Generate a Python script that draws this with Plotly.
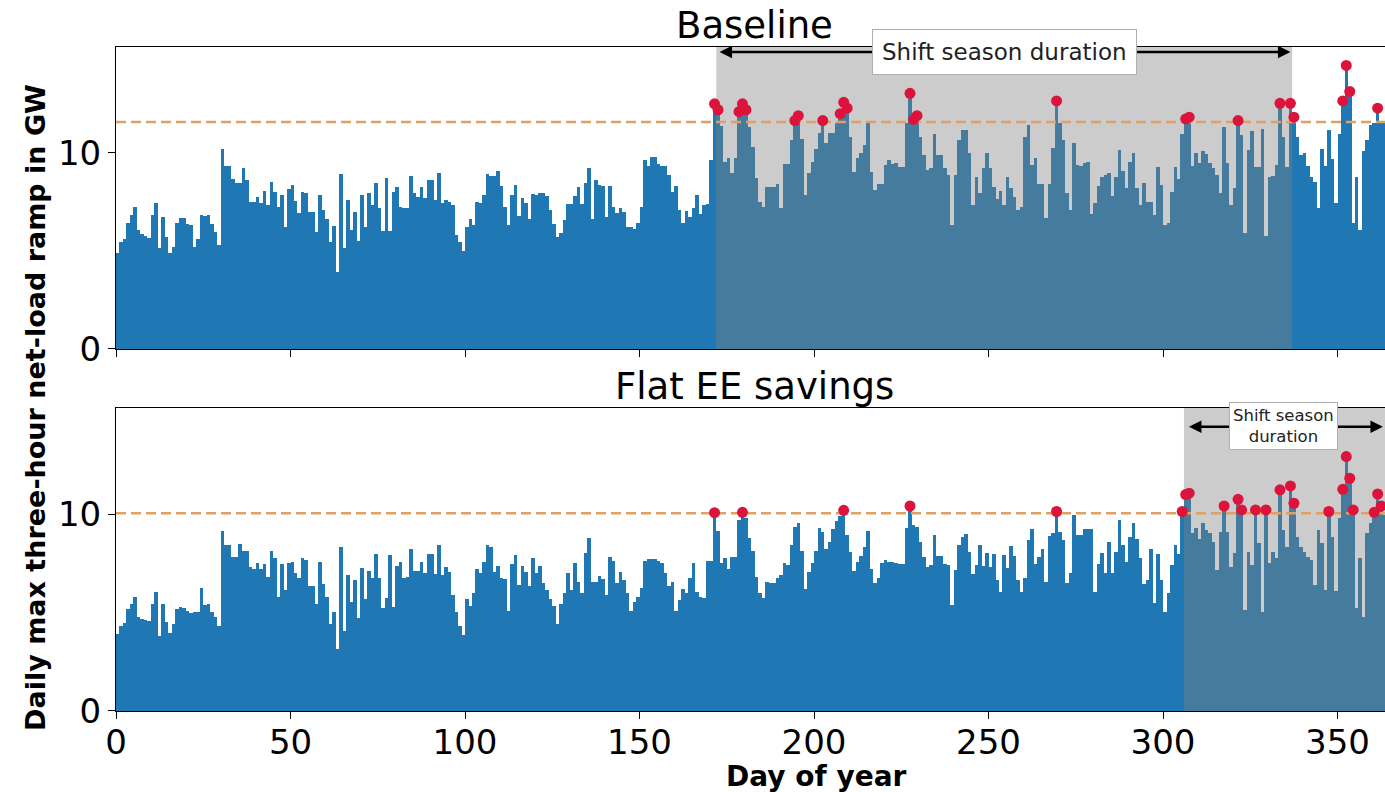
import numpy as np
import plotly.graph_objects as go
from plotly.subplots import make_subplots

days = list(range(365))

baseline = [
    4.9, 5.44, 5.6, 6.45, 6.85, 7.23, 6.05, 5.85, 5.77, 5.68, 6.85, 7.47, 5.14, 6.75, 5.73, 4.91, 5.2, 6.45, 6.68, 6.68,
    6.38, 6.31, 5.22, 5.6, 6.85, 6.8, 6.85, 6.38, 5.97, 5.29,
    10.19, 9.34, 9.34, 8.66, 8.49, 8.49, 9.25, 8.6, 7.52, 7.48,
    7.77, 7.47, 8.08, 7.35, 8.54, 7.99, 7.26, 7.84, 6.24, 8.16,
    8.38, 7.53, 6.92, 8.01, 7.94, 7.0, 7.0, 5.99, 7.86, 7.09,
    6.62, 5.46, 6.28, 3.91, 8.93, 5.14, 7.6, 6.07, 7.0, 5.53,
    7.86, 6.24, 7.94, 7.35, 8.49, 7.18, 6.0, 8.71, 6.0, 8.03,
    8.25, 7.26, 7.18, 7.18, 8.84, 7.94, 7.77, 8.25, 7.69, 8.62,
    8.62, 7.58, 8.98, 7.44, 7.58, 7.5, 7.33, 5.82, 5.44, 5.02,
    6.2, 6.65, 6.31, 7.5, 7.47, 7.84, 8.93, 8.84, 8.84, 9.1,
    8.3, 7.23, 6.31, 7.86, 8.37, 6.8, 7.69, 7.43, 6.65, 7.9,
    7.86, 7.98, 7.98, 7.78, 7.09, 6.38, 5.73, 5.9, 6.56, 7.38,
    7.38, 7.8, 8.28, 7.4, 8.49, 9.25, 6.62, 8.62, 8.37, 8.33,
    6.75, 8.33, 7.26, 6.96, 7.18, 6.97, 6.24, 6.24, 6.12, 6.44,
    7.23, 9.64, 9.34, 9.8, 9.8, 9.42, 9.34, 9.34, 8.88, 8.03,
    8.33, 7.09, 6.44, 7.06, 6.75, 7.18, 7.86, 6.87, 7.35, 7.4,
    9.64, 12.5, 12.2, 11.38, 9.56, 9.73, 8.96, 9.73, 12.1, 12.5,
    12.2, 11.3, 10.32, 8.7, 7.52, 7.23, 8.25, 8.25, 8.25, 8.4,
    7.18, 9.42, 9.42, 10.66, 11.65, 11.9, 10.7, 7.86, 8.96, 9.56,
    10.19, 11.04, 11.65, 10.5, 11.04, 11.04, 11.51, 12.0, 12.58, 12.28,
    10.83, 9.05, 9.73, 9.98, 10.4, 11.51, 9.01, 8.11, 8.42, 8.42,
    9.39, 9.64, 9.44, 9.47, 9.3, 9.3, 11.51, 13.04, 11.7, 11.9,
    10.83, 9.9, 9.13, 9.25, 10.95, 9.9, 9.9, 9.25, 8.88, 6.33,
    8.88, 10.66, 11.17, 11.17, 10.02, 7.35, 8.79, 7.94, 9.25, 10.02,
    9.22, 8.28, 7.64, 8.08, 7.35, 8.79, 8.2, 7.77, 7.09, 7.26,
    10.83, 11.43, 9.39, 9.73, 8.42, 8.42, 6.7, 8.42, 10.27, 12.65,
    11.51, 10.66, 7.94, 7.09, 10.5, 9.39, 9.34, 9.5, 9.56, 6.89,
    7.47, 8.33, 8.76, 8.88, 9.0, 7.82, 8.79, 10.15, 9.1, 8.2,
    9.56, 10.02, 8.2, 7.35, 8.45, 7.52, 7.52, 6.84, 9.3, 8.37,
    6.33, 6.45, 8.03, 9.27, 8.66, 10.95, 11.73, 11.82, 9.34, 10.02,
    9.5, 10.1, 9.93, 9.47, 9.22, 8.88, 7.94, 11.3, 9.5, 7.35,
    8.2, 11.65, 10.92, 5.94, 10.15, 11.14, 9.3, 9.3, 11.2, 5.77,
    8.79, 8.83, 9.39, 12.53, 10.83, 9.3, 12.53, 11.82, 10.83, 9.9,
    9.98, 9.34, 8.79, 8.54, 7.18, 10.19, 9.34, 11.17, 9.68, 7.47,
    10.95, 12.65, 14.46, 13.13, 6.45, 8.79, 6.07, 10.1, 10.66, 11.43,
    11.5, 12.28, 11.51, 11.51, 11.51,
]

flat_ee = [
    3.9, 4.32, 4.49, 5.17, 5.42, 5.81, 4.8, 4.66, 4.63, 4.58, 5.42, 6.03, 3.81, 5.42, 4.54, 3.95, 4.41, 5.19, 5.27, 5.22,
    5.1, 5.0, 5.03, 5.05, 6.27, 5.39, 5.44, 5.03, 4.8, 4.34,
    9.15, 8.44, 8.44, 7.85, 7.85, 8.47, 8.14, 8.14, 7.31, 7.2,
    7.51, 7.2, 7.47, 6.83, 8.14, 7.76, 5.81, 7.46, 6.15, 7.51,
    7.59, 7.0, 6.78, 7.76, 7.68, 6.36, 6.36, 5.44, 7.59, 6.44,
    5.81, 4.41, 5.02, 3.14, 8.31, 4.07, 6.92, 5.53, 6.66, 4.71,
    7.29, 5.68, 7.14, 6.75, 7.98, 6.75, 5.22, 5.73, 7.92, 5.27,
    7.37, 7.59, 6.75, 6.83, 8.22, 7.14, 7.14, 7.59, 7.0, 7.98,
    7.98, 6.97, 8.44, 6.92, 7.34, 7.08, 5.9, 5.05, 4.34, 3.86,
    5.68, 5.36, 5.98, 7.2, 7.0, 7.59, 8.44, 8.36, 7.08, 7.37,
    6.75, 6.71, 5.1, 7.46, 7.93, 6.41, 7.37, 7.08, 6.36, 7.76,
    7.0, 7.37, 6.49, 6.15, 5.71, 5.34, 4.41, 5.44, 6.02, 7.03,
    6.15, 7.51, 6.58, 5.98, 8.05, 8.78, 6.58, 6.58, 6.88, 6.69,
    5.9, 7.85, 7.63, 6.49, 7.05, 6.66, 5.98, 5.1, 5.56, 5.81,
    6.27, 7.63, 7.75, 7.75, 7.75, 7.64, 7.51, 7.03, 6.36, 6.58,
    5.1, 5.64, 6.19, 5.98, 6.75, 7.51, 6.03, 5.81, 5.73, 7.64,
    7.64, 10.08, 9.15, 7.51, 7.76, 7.2, 7.81, 7.85, 9.7, 10.1,
    9.8, 8.78, 8.15, 6.83, 5.98, 5.76, 6.58, 6.53, 6.49, 6.75,
    6.92, 7.51, 7.42, 8.44, 9.34, 9.58, 8.14, 6.19, 7.05, 7.51,
    8.14, 9.29, 9.12, 8.22, 8.61, 9.24, 9.68, 9.9, 10.2, 8.95,
    8.1, 7.14, 7.56, 7.88, 8.36, 9.15, 7.2, 6.53, 6.75, 7.51,
    7.68, 7.59, 7.59, 7.51, 7.47, 7.47, 9.32, 10.42, 9.46, 9.37,
    8.61, 7.85, 7.34, 7.42, 8.95, 7.88, 7.88, 7.46, 7.42, 5.39,
    7.17, 8.44, 8.86, 9.0, 8.07, 6.97, 7.42, 8.44, 7.39, 8.02,
    7.34, 7.98, 6.66, 6.07, 7.93, 7.25, 8.39, 7.88, 6.66, 6.07,
    6.75, 8.69, 9.24, 7.47, 7.85, 8.22, 6.58, 8.9, 9.03, 10.14,
    9.12, 8.69, 6.53, 7.03, 9.97, 8.95, 8.95, 9.24, 9.24, 9.24,
    6.07, 7.46, 8.05, 7.0, 8.61, 7.0, 8.1, 9.71, 8.44, 7.59,
    8.86, 9.58, 8.73, 7.76, 6.46, 6.66, 8.22, 5.47, 7.97, 6.66,
    5.05, 6.02, 7.42, 8.44, 7.98, 10.14, 11.0, 11.07, 9.03, 9.29,
    8.73, 9.58, 9.2, 9.03, 8.61, 7.17, 9.12, 10.42, 9.12, 7.34,
    8.02, 10.76, 10.22, 5.14, 8.1, 7.42, 10.22, 8.53, 5.05, 10.22,
    7.51, 8.1, 7.76, 11.24, 9.2, 8.36, 11.44, 10.56, 8.86, 8.36,
    8.1, 7.85, 7.68, 6.41, 9.2, 8.53, 6.15, 10.14, 8.86, 6.12,
    9.8, 11.27, 12.93, 11.83, 10.22, 5.22, 7.76, 4.8, 9.03, 9.54,
    10.1, 11.03, 10.42, 9.95, 9.95,
]

thresholds = [11.58, 10.05]
seasons = [(172, 337), (306, 365)]
titles = ["Baseline", "Flat EE savings"]
xticks = [0, 50, 100, 150, 200, 250, 300, 350]
yticks = [0, 10]

assert len(baseline) == 365 and len(flat_ee) == 365

FONT = "DejaVu Sans"
BLUE = "#1f77b4"
BLUE_SHADED = "#457b9d"
ORANGE = "#dea065"
RED = "crimson"

fig = make_subplots(rows=2, cols=1, shared_xaxes=False, vertical_spacing=0.09)

for i, (vals, thr, (s0, s1)) in enumerate(zip([baseline, flat_ee], thresholds, seasons)):
    row = i + 1
    colors = [BLUE_SHADED if s0 <= d < s1 else BLUE for d in days]
    fig.add_trace(go.Bar(x=days, y=vals, width=1, offset=0,
                         marker=dict(color=colors, line=dict(width=0)),
                         showlegend=False), row=row, col=1)
    fig.add_trace(go.Scatter(x=[0, 365], y=[thr, thr], mode="lines",
                             line=dict(color=ORANGE, width=2.5, dash="10px,5px"),
                             showlegend=False), row=row, col=1)
    hx = [d + 0.5 for d, v in zip(days, vals) if v > thr]
    hy = [v for v in vals if v > thr]
    fig.add_trace(go.Scatter(x=hx, y=hy, mode="markers",
                             marker=dict(color=RED, size=11),
                             showlegend=False, cliponaxis=False), row=row, col=1)
    xr = "x" if i == 0 else "x2"
    yr = "y" if i == 0 else "y2"
    fig.add_shape(type="rect", xref=xr, yref=yr + " domain", x0=s0, x1=s1, y0=0, y1=1,
                  fillcolor="rgba(128,128,128,0.4)", line=dict(width=0), layer="below")

fig.update_layout(bargap=0, barmode="overlay")

for i in range(2):
    xa = "xaxis" if i == 0 else "xaxis2"
    ya = "yaxis" if i == 0 else "yaxis2"
    fig.layout[xa].update(range=[0, 363.6], tickvals=xticks, showticklabels=(i == 1),
                          ticks="outside", ticklen=7, tickcolor="black", showline=True,
                          linecolor="black", linewidth=1, mirror=True, showgrid=False,
                          zeroline=False, tickfont=dict(family=FONT, size=34, color="black"))
    fig.layout[ya].update(range=[0, 15.4], tickvals=yticks, ticks="outside", ticklen=7,
                          tickcolor="black", showline=True, linecolor="black", linewidth=1,
                          showgrid=False, zeroline=False,
                          tickfont=dict(family=FONT, size=34, color="black"))
fig.layout.xaxis2.ticklabelstandoff = -6

fig.layout.yaxis.domain = [0.5452, 1.0]
fig.layout.yaxis2.domain = [0.0, 0.4563]

annotations = []
annotations.append(dict(text=titles[0], xref="paper", yref="paper", x=0.503, y=(711 - 25) / 664,
                        xanchor="center", yanchor="middle", showarrow=False,
                        font=dict(family=FONT, size=37, color="black")))
annotations.append(dict(text=titles[1], xref="paper", yref="paper", x=0.503, y=(711 - 386) / 664,
                        xanchor="center", yanchor="middle", showarrow=False,
                        font=dict(family=FONT, size=37, color="black")))
annotations.append(dict(text="<b>Daily max three-hour net-load ramp in GW</b>", xref="paper", yref="paper",
                        x=(35 - 116) / 1269, y=(711 - 408) / 664, textangle=-90, xanchor="center",
                        yanchor="middle", showarrow=False, font=dict(family=FONT, size=27, color="black")))
annotations.append(dict(text="<b>Day of year</b>", xref="paper", yref="paper",
                        x=(816 - 116) / 1269, y=(711 - 777) / 664, xanchor="center", yanchor="middle",
                        showarrow=False, font=dict(family=FONT, size=28, color="black")))
arrow_specs = [("x", "y", 172.5, 336.5, 15.15), ("x2", "y2", 307, 363, 14.45)]
for xr, yr, a0, a1, yy in arrow_specs:
    annotations.append(dict(x=a1, y=yy, ax=a0, ay=yy, xref=xr, yref=yr, axref=xr, ayref=yr,
                            text="", showarrow=True, arrowhead=2, startarrowhead=2,
                            arrowside="end+start", arrowsize=1, arrowwidth=2.5,
                            arrowcolor="black", startstandoff=0, standoff=0))
annotations.append(dict(text="Shift season duration", x=254.5, y=15.15, xref="x", yref="y",
                        showarrow=False, bgcolor="white", bordercolor="#b0b0b0", borderwidth=1,
                        borderpad=9, font=dict(family=FONT, size=23, color="#222")))
annotations.append(dict(text="Shift season<br>duration", x=334.5, y=14.47, xref="x2", yref="y2",
                        showarrow=False, bgcolor="white", bordercolor="#b0b0b0", borderwidth=1,
                        borderpad=3, font=dict(family=FONT, size=16.5, color="#222")))

fig.update_layout(
    width=1385, height=792,
    margin=dict(l=116, r=0, t=47, b=81),
    paper_bgcolor="white", plot_bgcolor="white",
    annotations=annotations,
    font=dict(family=FONT, color="black"),
)

fig.write_html("out.html")
